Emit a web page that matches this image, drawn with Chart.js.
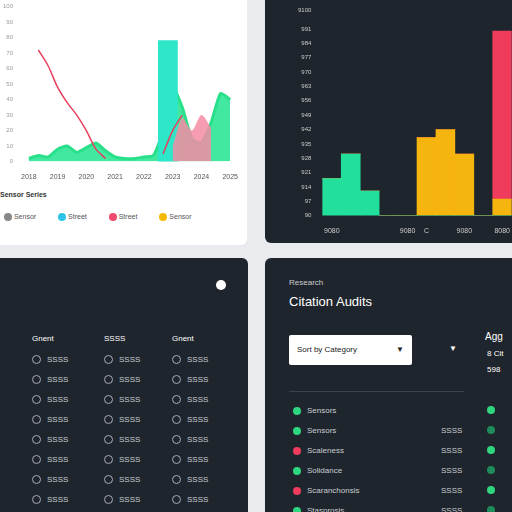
<!DOCTYPE html><html><head><meta charset="utf-8">
<script src="https://cdn.jsdelivr.net/npm/chart.js@4"></script>
<style>
body{margin:0;width:512px;height:512px;background:#e9ebee;font-family:"Liberation Sans",Arial,sans-serif;overflow:hidden;position:relative}
.p{position:absolute;border-radius:6px}
.dark{background:#1f252c;color:#d8dde3}
.row{position:absolute;font-size:8px;color:#c9ced4;display:flex;align-items:center;gap:6px}
.dot{width:8px;height:8px;border-radius:50%;display:inline-block}
.ring{width:7px;height:7px;border-radius:50%;border:1px solid #aab;display:inline-block}
</style></head><body>
<div class="p" style="left:-6px;top:-6px;width:253px;height:251px;background:#fff">
<div style="position:absolute;left:6px;top:6px;width:241px;height:184px"><canvas id="c1"></canvas></div>
<div style="position:absolute;left:6px;top:197px;font-size:7px;color:#333;font-weight:bold">Sensor Series</div>
<div id="lg" style="position:absolute;left:10px;top:219px;font-size:7px;color:#555;display:flex;gap:22px"></div>
</div>
<div class="p dark" style="left:265px;top:-6px;width:253px;height:249px"><div style="position:absolute;left:30px;top:10px;width:218px;height:234px"><canvas id="c2"></canvas></div></div>
<div class="p dark" style="left:-6px;top:258px;width:254px;height:260px" id="bl"></div>
<div class="p dark" style="left:265px;top:258px;width:253px;height:260px" id="br">
<div style="position:absolute;left:24px;top:20px;font-size:8px;color:#ccc">Research</div>
<div style="position:absolute;left:24px;top:36px;font-size:13px;color:#fff">Citation Audits</div>
<div style="position:absolute;left:24px;top:77px;width:123px;height:30px;background:#fff;border-radius:2px;font-size:8px;color:#222;line-height:30px;padding-left:8px;box-sizing:border-box">Sort by Category<span style="position:absolute;right:8px">▼</span></div>
<div style="position:absolute;left:184px;top:86px;font-size:8px;color:#fff">▼</div>
<div style="position:absolute;left:220px;top:73px;font-size:10px;color:#fff">Agg</div>
<div style="position:absolute;left:222px;top:91px;font-size:8px;color:#fff">8 Cit</div>
<div style="position:absolute;left:222px;top:107px;font-size:8px;color:#fff">598</div>
<div style="position:absolute;left:24px;top:133px;width:175px;border-top:1px solid #3a424b"></div>
</div>
<script>
const labels1=['1','2','3','4','5','6','7','8','9','10','11','12','13','14','15','16','17','18','19','20','21','22'];
const greenVals=[2,4,3,8,10,6,9,12,7,3,2,2,3,4,20,48,35,15,12,25,44,40];
const cyanVals=[null,null,null,null,null,null,null,null,null,null,null,null,null,null,78,78,null,null,null,null,null,null];
const pinkVals=[null,null,null,null,null,null,null,null,null,null,null,null,null,null,null,10,28,20,30,22,null,null];
const redVals=[null,72,62,48,38,30,20,8,2,null,null,null,null,null,5,20,30,null,null,null,null,null];
const xTicks1=['2018','2019','2020','2021','2022','2023','2024','2025'];
const legend1=[['Sensor','#888'],['Street','#2ec4e6'],['Street','#ef4b6c'],['Sensor','#f5b800']];
document.getElementById('lg').innerHTML=legend1.map(l=>`<span><span class="dot" style="background:${l[1]};vertical-align:middle"></span> ${l[0]}</span>`).join('');
new Chart(document.getElementById('c1'),{type:'bar',data:{labels:labels1,datasets:[
{type:'line',data:redVals,borderColor:'#e6405e',borderWidth:1.5,pointRadius:0,tension:.3,spanGaps:false},
{type:'line',data:pinkVals,borderWidth:0,backgroundColor:'rgba(245,140,165,.85)',fill:'origin',pointRadius:0,tension:.3},
{type:'bar',data:cyanVals,backgroundColor:'#2ee6c8',barPercentage:1,categoryPercentage:1},
{type:'line',data:greenVals,borderColor:'#29e08a',backgroundColor:'rgba(45,228,150,.9)',fill:'origin',pointRadius:0,tension:.2}]},
options:{animation:false,responsive:true,maintainAspectRatio:false,plugins:{legend:{display:false}},
scales:{x:{grid:{display:false},border:{display:false},ticks:{autoSkip:false,font:{size:7},color:'#555',maxRotation:0,callback:(v,i)=>i%3===0?xTicks1[i/3]:''}},
y:{min:0,max:100,grid:{display:false},border:{display:false},ticks:{stepSize:10,font:{size:6},color:'#999'}}}}});
const labels2=['A','B','C','D','E','F','G','H','I','J'];
const greenB=[18,30,12,0,0,0,0,0,0,0];
const yellowB=[0,0,0,0,0,38,42,30,0,8];
const redB=[0,0,0,0,0,0,0,0,0,82];
const xTicks2=['9080','','','','9080','C','','9080','','8080'];
new Chart(document.getElementById('c2'),{type:'bar',data:{labels:labels2,datasets:[
{data:greenB,backgroundColor:'#22df9c',stack:'s'},{data:yellowB,backgroundColor:'#f6b40e',stack:'s'},{data:redB,backgroundColor:'#ef3c5c',stack:'s'}]},
options:{animation:false,responsive:true,maintainAspectRatio:false,plugins:{legend:{display:false}},datasets:{bar:{barPercentage:1,categoryPercentage:1}},
scales:{x:{stacked:true,grid:{display:false},border:{display:false},ticks:{autoSkip:false,maxRotation:0,font:{size:7},color:'#ccc',callback:(v,i)=>xTicks2[i]}},
y:{stacked:true,min:0,max:100,grid:{display:false},border:{display:false},ticks:{stepSize:7,font:{size:6},color:'#ccc',callback:v=>'9'+v}}}}});
let bl='<div style="position:absolute;left:222px;top:22px;width:10px;height:10px;border-radius:50%;background:#fff"></div>';
const hdr=['Gnent','SSSS','Gnent'];const cx=[38,110,178];
hdr.forEach((h,i)=>bl+=`<div class="row" style="left:${cx[i]}px;top:76px;color:#fff">${h}</div>`);
for(let r=0;r<10;r++)cx.forEach(x=>bl+=`<div class="row" style="left:${x}px;top:${97+r*20}px"><span class="ring"></span>SSSS</div>`);
document.getElementById('bl').innerHTML=bl;
const cols=['#2ed67f','#2ed67f','#ef3c5c','#2ed67f','#ef3c5c','#2ed67f'];
const names=['Sensors','Sensors','Scaleness','Solidance','Scaranchonsis','Stasprosis'];
let br='';cols.forEach((c,i)=>{br+=`<div class="row" style="left:28px;top:${148+i*20}px"><span class="dot" style="background:${c}"></span>${names[i]}</div>`;
if(i)br+=`<div class="row" style="left:176px;top:${148+i*20}px">SSSS</div>`;
br+=`<div class="row" style="left:222px;top:${148+i*20}px"><span class="dot" style="background:${i%2?'#1f8a5a':'#2ed67f'}"></span></div>`;});
document.getElementById('br').insertAdjacentHTML('beforeend',br);
</script></body></html>
